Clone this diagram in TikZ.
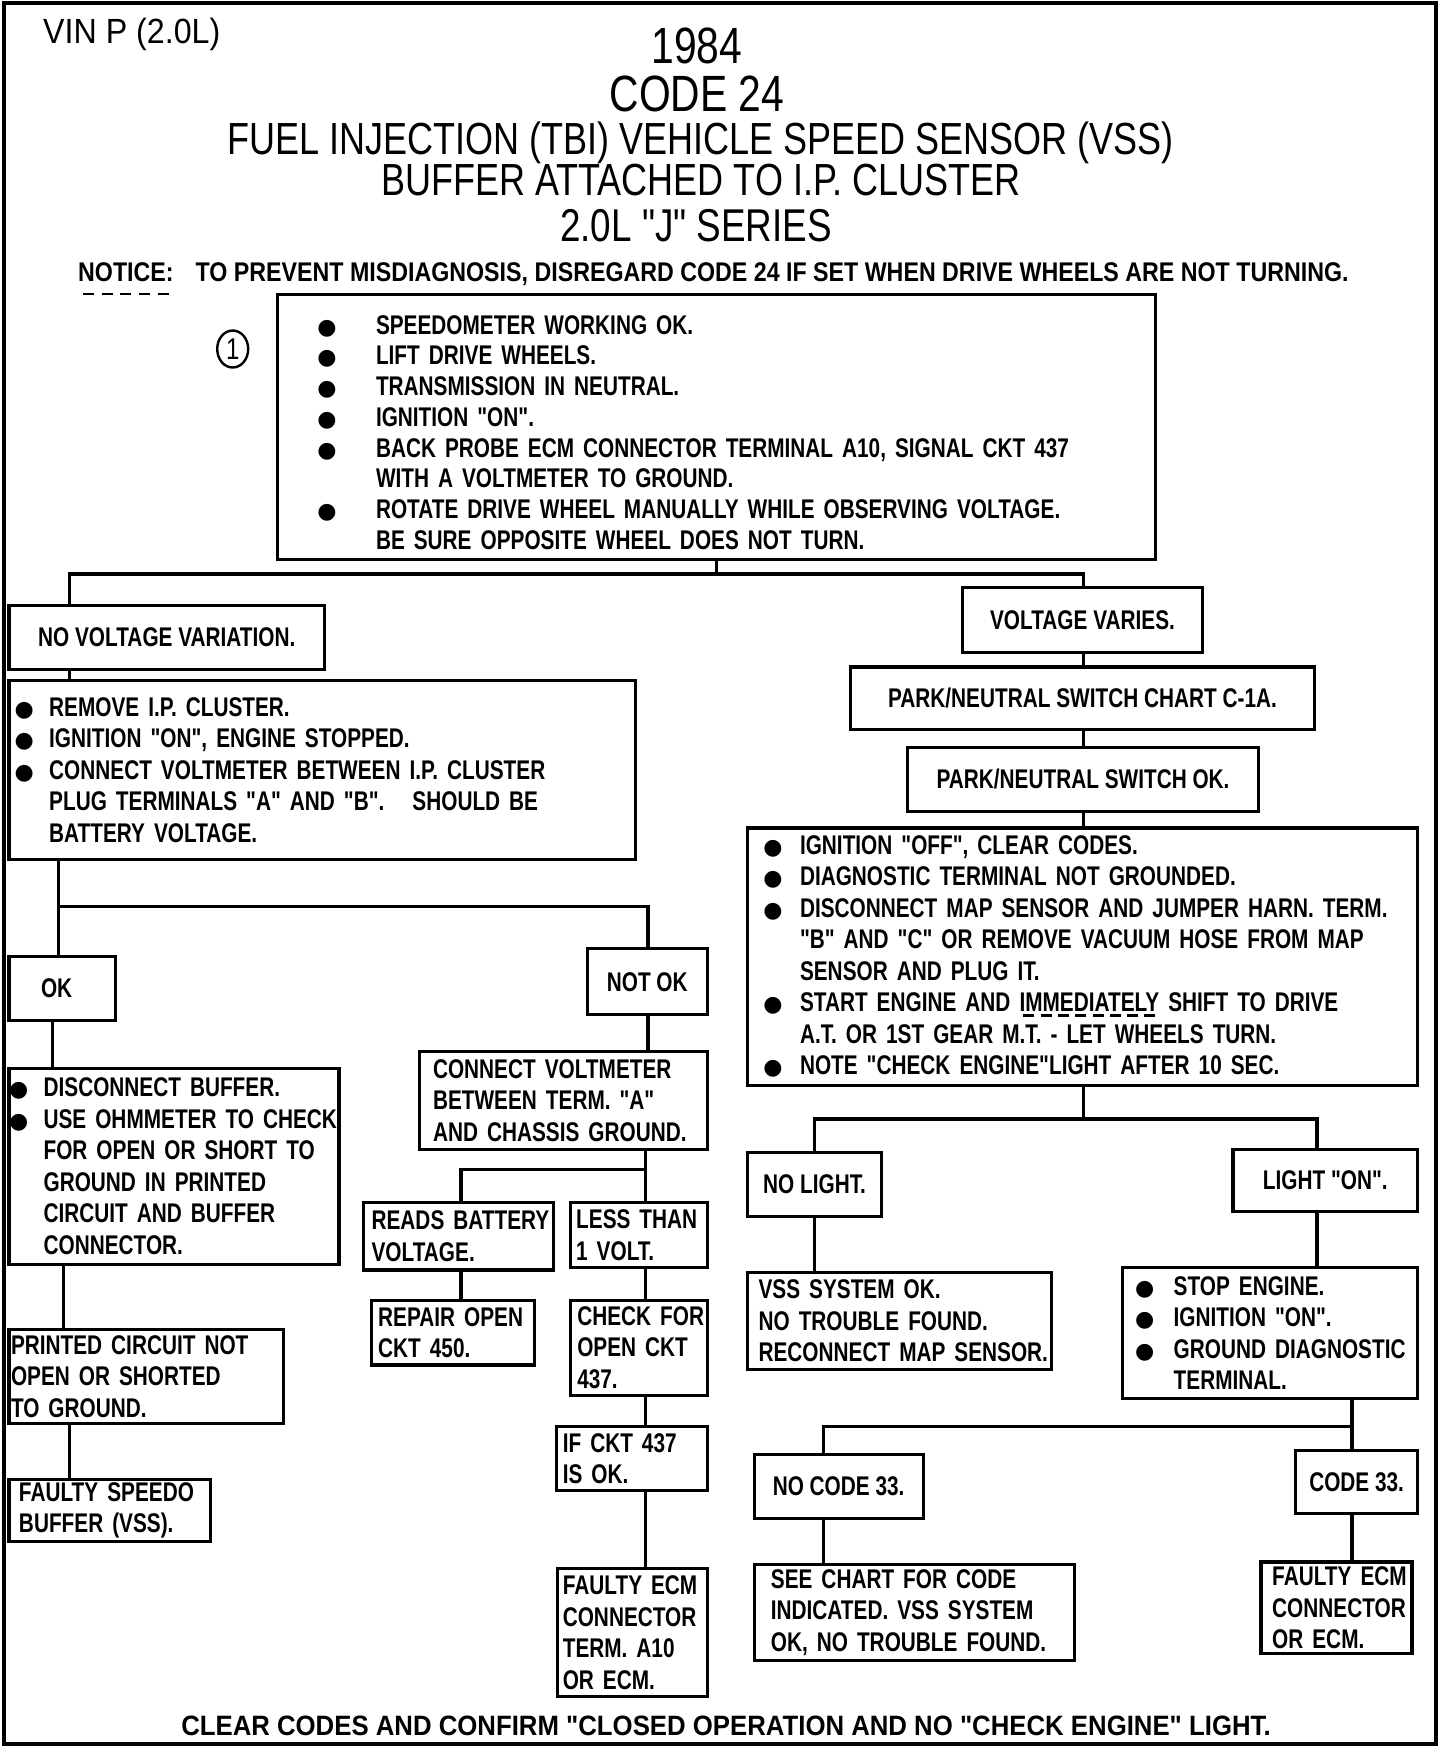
\documentclass[tikz,border=0pt]{standalone}
\usepackage{fontspec}
\setmainfont{Liberation Sans}
\newfontfamily\dotfont[FakeStretch=0.77]{Liberation Sans}
\newfontfamily\noticefont[FakeStretch=0.86]{Liberation Sans}
\newfontfamily\headfont[FakeStretch=0.8]{Liberation Sans}
\newfontfamily\vinfont[FakeStretch=0.92]{Liberation Sans}
\newfontfamily\clearfont[FakeStretch=0.92]{Liberation Sans}
\newfontfamily\symfont{DejaVu Sans}
\usetikzlibrary{shapes.geometric}

\newcommand{\bodyfont}{\dotfont\bfseries\fontsize{27}{31.5}\selectfont}
\newcommand{\blt}[1][25pt]{\leavevmode\llap{\makebox[0pt]{\symfont\fontsize{22}{22}\selectfont ●}\hspace{#1}}}
\newsavebox\undbox
\newcommand{\dashund}[2][6pt]{\sbox\undbox{#2}\leavevmode\rlap{\smash{\raisebox{-#1}{\hbox to \wd\undbox{\xleaders\hbox{\kern2.5pt\vrule height 2.6pt width 11pt\kern2.5pt}\hfill}}}}\usebox\undbox}

\begin{document}
\begin{tikzpicture}[x=1pt, y=-1pt,
    block/.style={rectangle, draw, line width=3.2pt, outer sep=0pt, inner xsep=2pt, inner ysep=0pt, anchor=north west, font=\bodyfont, align=left},
    dims/.style 2 args={minimum width=#1pt, minimum height=#2pt, text width=#1pt-4pt},
    inset/.style={execute at begin node={\leftskip=#1pt\rightskip=-40pt plus 1fil}},
    cblock/.style 2 args={block, align=center, minimum width=#1pt, minimum height=#2pt},
    head/.style={inner sep=0pt, font=\headfont\fontsize{#1}{#1}\selectfont},
    line/.style={draw, line width=3.2pt}]

    \useasboundingbox (0,0) rectangle (1440,1754);
    \draw [line width=4.5pt] (4,3) rectangle (1436,1744);

    \node [anchor=west, inner sep=0pt, font=\vinfont\fontsize{35}{35}\selectfont] (vin) at (43,34) {VIN P (2.0L)};
    \node [head=51] (year) at (697,46) {1984};
    \node [head=51] (code) at (697,94) {CODE 24};
    \node [head=45] (ttl1) at (700.5,143) {FUEL INJECTION (TBI) VEHICLE SPEED SENSOR (VSS)};
    \node [head=45] (ttl2) at (701,180) {BUFFER ATTACHED TO I.P. CLUSTER};
    \node [head=46] (ttl3) at (696,225.5) {2.0L "J" SERIES};
    \node [anchor=west, inner sep=0pt, font=\noticefont\bfseries\fontsize{27}{27}\selectfont] (notice) at (78,274) {\dashund[14pt]{NOTICE:}\hspace{22pt}TO PREVENT MISDIAGNOSIS, DISREGARD CODE 24 IF SET WHEN DRIVE WHEELS ARE NOT TURNING.};
    \node [ellipse, draw, line width=2.4pt, minimum width=31pt, minimum height=37pt, inner sep=0pt, head=30] (one) at (232.7,349) {1};

    \node [block, dims={878.3}{265.1}, inset=96.5, font={\bodyfont\fontsize{27}{30.7}\selectfont}] (b1) at (277.5,294.3) {\blt[49pt]SPEEDOMETER WORKING OK.\\ \blt[49pt]LIFT DRIVE WHEELS.\\ \blt[49pt]TRANSMISSION IN NEUTRAL.\\ \blt[49pt]IGNITION "ON".\\ \blt[49pt]BACK PROBE ECM CONNECTOR TERMINAL A10, SIGNAL CKT 437\\ WITH A VOLTMETER TO GROUND.\\ \blt[49pt]ROTATE DRIVE WHEEL MANUALLY WHILE OBSERVING VOLTAGE.\\ BE SURE OPPOSITE WHEEL DOES NOT TURN.\par\kern-11pt};

    \node [cblock={315.5}{63.8}] (nvv) at (9,605.3) {NO VOLTAGE VARIATION.};
    \node [block, dims={626.5}{179}, inset=38.2] (b2) at (9,680.3) {\blt REMOVE I.P. CLUSTER.\\ \blt IGNITION "ON", ENGINE STOPPED.\\ \blt CONNECT VOLTMETER BETWEEN I.P. CLUSTER\\ PLUG TERMINALS "A" AND "B".\hspace{28pt}SHOULD BE\\ BATTERY VOLTAGE.};
    \node [block, dims={106.2}{63.8}, inset=30] (ok) at (9,956.6) {OK};
    \node [cblock={119.7}{66}] (notok) at (587.4,948.8) {NOT OK};
    \node [block, dims={330}{195.8}, inset=32.6] (b3) at (9,1068.5) {\blt DISCONNECT BUFFER.\\ \blt USE OHMMETER TO CHECK\\ FOR OPEN OR SHORT TO\\ GROUND IN PRINTED\\ CIRCUIT AND BUFFER\\ CONNECTOR.};
    \node [block, dims={274.1}{94}, inset=0] (pc) at (9,1329.2) {PRINTED CIRCUIT NOT\\ OPEN OR SHORTED\\ TO GROUND.};
    \node [block, dims={201.3}{62.6}, inset=8] (fs) at (9,1479.2) {FAULTY SPEEDO\\ BUFFER (VSS).};

    \node [block, dims={287.5}{97.4}, inset=11.4] (cv) at (419.6,1051.7) {CONNECT VOLTMETER\\ BETWEEN TERM. "A"\\ AND CHASSIS GROUND.};
    \node [block, dims={190.2}{67.1}, inset=6] (rb) at (363.6,1202.8) {READS BATTERY\\ VOLTAGE.};
    \node [block, dims={136.5}{64.9}, inset=3.6] (lt) at (570.6,1202.8) {LESS THAN\\ 1 VOLT.};
    \node [block, dims={163.3}{64.9}, inset=4.7] (ro) at (371.5,1300.1) {REPAIR OPEN\\ CKT 450.};
    \node [block, dims={136.5}{95.1}, inset=4.7] (cf) at (570.6,1300.1) {CHECK FOR\\ OPEN CKT\\ 437.};
    \node [block, dims={151}{63.7}, inset=4.7] (ckok) at (556.1,1426.6) {IF CKT 437\\ IS OK.};
    \node [block, dims={149.9}{127.5}, inset=3.6] (fe) at (557.2,1568.7) {FAULTY ECM\\ CONNECTOR\\ TERM. A10\\ OR ECM.};

    \node [cblock={240.6}{64.9}] (vv) at (962.2,587.4) {VOLTAGE VARIES.};
    \node [cblock={464.4}{62.6}] (pnc) at (850.3,666.9) {PARK/NEUTRAL SWITCH CHART C-1A.};
    \node [cblock={351.3}{63.8}] (pno) at (907.4,747.4) {PARK/NEUTRAL SWITCH OK.};
    \node [block, dims={670.2}{257.3}, inset=50.6] (b4) at (747.4,828) {\blt[27pt]IGNITION "OFF", CLEAR CODES.\\ \blt[27pt]DIAGNOSTIC TERMINAL NOT GROUNDED.\\ \blt[27pt]DISCONNECT MAP SENSOR AND JUMPER HARN. TERM.\\ "B" AND "C" OR REMOVE VACUUM HOSE FROM MAP\\ SENSOR AND PLUG IT.\\ \blt[27pt]START ENGINE AND \dashund[5pt]{IMMEDIATELY} SHIFT TO DRIVE\\ A.T. OR 1ST GEAR M.T. - LET WHEELS TURN.\\ \blt[27pt]NOTE "CHECK ENGINE"LIGHT AFTER 10 SEC.};
    \node [cblock={134.3}{63.8}] (nl) at (747.4,1152.4) {NO LIGHT.};
    \node [cblock={184.6}{62.6}] (lo) at (1233,1149.1) {LIGHT "ON".};
    \node [block, dims={304.3}{97.3}, inset=9.2] (vs) at (747.4,1272.2) {VSS SYSTEM OK.\\ NO TROUBLE FOUND.\\ RECONNECT MAP SENSOR.};
    \node [block, dims={295.4}{130.9}, inset=49.5] (b5) at (1122.2,1267.7) {\blt[29pt]STOP ENGINE.\\ \blt[29pt]IGNITION "ON".\\ \blt[29pt]GROUND DIAGNOSTIC\\ TERMINAL.};
    \node [cblock={169}{63.8}] (nc) at (754.1,1454.5) {NO CODE 33.};
    \node [cblock={121.9}{63.7}] (c33) at (1295.7,1450.1) {CODE 33.};
    \node [block, dims={320}{96.2}, inset=14.8] (sc) at (754.1,1564.2) {SEE CHART FOR CODE\\ INDICATED. VSS SYSTEM\\ OK, NO TROUBLE FOUND.};
    \node [block, dims={151}{91.8}, inset=9.2] (fe2) at (1261,1561.9) {FAULTY ECM\\ CONNECTOR\\ OR ECM.};

    \node [inner sep=0pt, font=\clearfont\bfseries\fontsize{28}{28}\selectfont] (clear) at (726,1726) {CLEAR CODES AND CONFIRM "CLOSED OPERATION AND NO "CHECK ENGINE" LIGHT.};

    \coordinate (c1) at (69.4,0);
    \coordinate (c2) at (58.2,0);
    \coordinate (c3) at (52.6,0);
    \coordinate (c4) at (63.8,0);
    \coordinate (c5) at (648,0);
    \coordinate (c6) at (645.6,0);
    \coordinate (c7) at (461,0);
    \coordinate (c8) at (1083.1,0);
    \coordinate (c9) at (814.5,0);
    \coordinate (c10) at (1316.9,0);
    \coordinate (c11) at (1352,0);
    \coordinate (c12) at (823.5,0);
    \coordinate (r1) at (0,574);
    \coordinate (r2) at (0,906.3);
    \coordinate (r3) at (0,1169.2);
    \coordinate (r4) at (0,1118.9);
    \coordinate (r5) at (0,1426.6);

    \path [line] (b1.south) |- (c1 |- r1) -- (c1 |- nvv.north);
    \path [line] (b1.south) |- (c8 |- r1) -- (c8 |- vv.north);
    \path [line] (c1 |- nvv.south) -- (c1 |- b2.north);
    \path [line] (c2 |- b2.south) |- (c5 |- r2) -- (c5 |- notok.north);
    \path [line] (c2 |- b2.south) -- (c2 |- ok.north);
    \path [line] (c3 |- ok.south) -- (c3 |- b3.north);
    \path [line] (c4 |- b3.south) -- (c4 |- pc.north);
    \path [line] (c1 |- pc.south) -- (c1 |- fs.north);
    \path [line] (c5 |- notok.south) -- (c5 |- cv.north);
    \path [line] (c6 |- cv.south) |- (c7 |- r3) -- (c7 |- rb.north);
    \path [line] (c6 |- cv.south) -- (c6 |- lt.north);
    \path [line] (c7 |- rb.south) -- (c7 |- ro.north);
    \path [line] (c6 |- lt.south) -- (c6 |- cf.north);
    \path [line] (c6 |- cf.south) -- (c6 |- ckok.north);
    \path [line] (c6 |- ckok.south) -- (c6 |- fe.north);
    \path [line] (c8 |- vv.south) -- (c8 |- pnc.north);
    \path [line] (c8 |- pnc.south) -- (c8 |- pno.north);
    \path [line] (c8 |- pno.south) -- (c8 |- b4.north);
    \path [line] (c8 |- b4.south) |- (c9 |- r4) -- (c9 |- nl.north);
    \path [line] (c8 |- b4.south) |- (c10 |- r4) -- (c10 |- lo.north);
    \path [line] (c9 |- nl.south) -- (c9 |- vs.north);
    \path [line] (c10 |- lo.south) -- (c10 |- b5.north);
    \path [line] (c11 |- b5.south) |- (c12 |- r5) -- (c12 |- nc.north);
    \path [line] (c11 |- b5.south) -- (c11 |- c33.north);
    \path [line] (c12 |- nc.south) -- (c12 |- sc.north);
    \path [line] (c11 |- c33.south) -- (c11 |- fe2.north);
\end{tikzpicture}
\end{document}
